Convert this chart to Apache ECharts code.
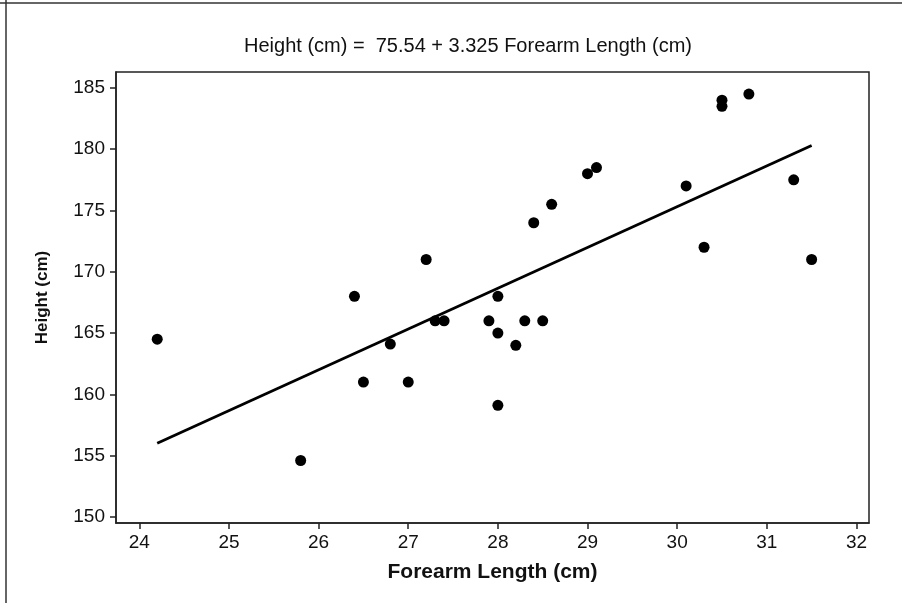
<!DOCTYPE html>
<html>
<head>
<meta charset="utf-8">
<script src="https://cdn.jsdelivr.net/npm/echarts@6/dist/echarts.min.js"></script>
<style>
  html, body { margin: 0; padding: 0; background: #fff; }
  #grafico { width: 902px; height: 603px; }
</style>
</head>
<body>
<div id="grafico"></div>
<script>
// forearm length (cm) vs height (cm)
const forearm = [24.2, 25.8, 26.4, 26.5, 26.8, 27.0, 27.2, 27.3, 27.4, 27.9, 28.0, 28.0, 28.0, 28.2,
  28.3, 28.4, 28.5, 28.6, 29.0, 29.1, 30.1, 30.3, 30.5, 30.5, 30.8, 31.3, 31.5]
const height = [164.5, 154.6, 168.0, 161.0, 164.1, 161.0, 171.0, 166.0, 166.0, 166.0, 168.0, 165.0, 159.1, 164.0,
  166.0, 174.0, 166.0, 175.5, 178.0, 178.5, 177.0, 172.0, 184.0, 183.5, 184.5, 177.5, 171.0]

// fitted line end points
const fitX = [24.2, 31.5]
const fitY = [156.0, 180.3]

const xTicks = [24, 25, 26, 27, 28, 29, 30, 31, 32]
const yTicks = [150, 155, 160, 165, 170, 175, 180, 185]

const chart = echarts.init(document.getElementById('grafico'))

const fuente = 'Liberation Sans, Arial, sans-serif'

const option = {
  animation: false,
  backgroundColor: '#fff',
  title: {
    text: 'Height (cm) =  75.54 + 3.325 Forearm Length (cm)',
    left: 463,
    top: 31,
    textAlign: 'center',
    textStyle: { fontFamily: fuente, fontSize: 20, fontWeight: 'normal', color: '#111' }
  },
  grid: {
    left: 116,
    right: 33,
    top: 72,
    bottom: 80,
    show: true,
    borderColor: '#222',
    borderWidth: 1.5,
    backgroundColor: '#fff'
  },
  xAxis: {
    type: 'value',
    min: 23.74,
    max: 32.14,
    interval: 1,
    name: 'Forearm Length (cm)',
    nameLocation: 'middle',
    nameGap: 39,
    nameTextStyle: { fontFamily: fuente, fontSize: 21, fontWeight: 'bold', color: '#111' },
    splitLine: { show: false },
    axisLine: { lineStyle: { color: '#222', width: 1.5 } },
    axisTick: { show: true, length: 6, lineStyle: { color: '#222', width: 1.5 },
      customValues: xTicks },
    axisLabel: {
      fontFamily: fuente, fontSize: 19, color: '#111', margin: 10,
      customValues: xTicks
    }
  },
  yAxis: {
    type: 'value',
    min: 149.5,
    max: 186.3,
    name: 'Height (cm)',
    nameLocation: 'middle',
    nameGap: 65,
    nameTextStyle: { fontFamily: fuente, fontSize: 17, fontWeight: 'bold', color: '#111' },
    splitLine: { show: false },
    axisLine: { lineStyle: { color: '#222', width: 1.5 } },
    axisTick: { show: true, length: 6, lineStyle: { color: '#222', width: 1.5 },
      customValues: yTicks },
    axisLabel: {
      fontFamily: fuente, fontSize: 19, color: '#111', margin: 11,
      customValues: yTicks
    }
  },
  graphic: [
    { type: 'line', shape: { x1: 6, y1: 0, x2: 6, y2: 603 }, style: { stroke: '#333', lineWidth: 1.5 } },
    { type: 'line', shape: { x1: 0, y1: 3, x2: 902, y2: 3 }, style: { stroke: '#333', lineWidth: 1.5 } }
  ],
  series: [
    {
      type: 'line',
      data: fitX.map((x, i) => [x, fitY[i]]),
      symbol: 'none',
      lineStyle: { color: '#000', width: 2.8 },
      z: 2
    },
    {
      type: 'scatter',
      data: forearm.map((x, i) => [x, height[i]]),
      symbol: 'circle',
      symbolSize: 11,
      itemStyle: { color: '#000', opacity: 1 },
      z: 3
    }
  ]
}

chart.setOption(option)
</script>
</body>
</html>
